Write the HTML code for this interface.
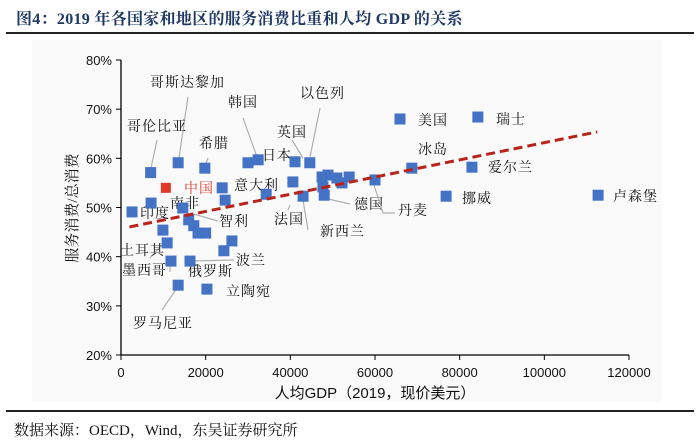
<!DOCTYPE html>
<html><head><meta charset="utf-8"><style>
html,body{margin:0;padding:0;background:#fff;}
body{width:700px;height:442px;position:relative;overflow:hidden;font-family:"Liberation Serif","Noto Serif CJK SC",serif;}
#title{position:absolute;left:16px;top:6px;font-size:16px;font-weight:bold;color:#1f3864;letter-spacing:0.3px;}
#rule1{position:absolute;left:6px;top:32px;width:688px;height:2px;background:#222;}
#rule2{position:absolute;left:6px;top:410px;width:688px;height:2px;background:#222;}
#source{position:absolute;left:14px;top:419px;font-size:15px;color:#111;}
svg{position:absolute;left:0;top:0;}
</style></head><body>
<div id="title">图4：2019 年各国家和地区的服务消费比重和人均 GDP 的关系</div>
<div id="rule1"></div>
<svg id="chart" width="700" height="442"></svg>
<div id="rule2"></div>
<div id="source">数据来源：OECD，Wind，东吴证券研究所</div>
<script>
const gdp=[2600,7000,13500,19800,7100,14600,16000,17200,18200,20000,9900,10900,11800,16300,13500,20300,23900,24600,26200,24300,34300,40600,43000,30000,32400,41100,44600,47500,48900,51000,52200,53900,47700,48000,60000,65900,84300,68700,82900,76800,112700];
const share=[49.1,57.1,59.1,58.0,50.9,49.9,47.5,46.3,44.8,44.8,45.4,42.8,39.1,39.1,34.2,33.4,54.0,51.5,43.2,41.2,52.7,55.2,52.3,59.1,59.7,59.3,59.1,56.2,56.6,56.0,55.0,56.2,54.2,52.5,55.6,68.0,68.4,58.0,58.2,52.3,52.5];
const chinaGdp=[10600];
const chinaShare=[54.0];
const trendX=[2000,112500];
const trendIntercept=45.7, trendSlope=0.0001749;
const xTicks=[0,20000,40000,60000,80000,100000,120000];
const yTicks=[20,30,40,50,60,70,80];

const NS="http://www.w3.org/2000/svg";
const svg=document.getElementById('chart');
const X0=121,X1=629,Y0=355,Y1=60;
const xs=v=>X0+(v/120000)*(X1-X0);
const ys=v=>Y0-((v-20)/60)*(Y0-Y1);
function mk(tag,a){const e=document.createElementNS(NS,tag);for(const k in a)e.setAttribute(k,a[k]);svg.appendChild(e);return e;}

const bg=mk('rect',{x:32,y:40,width:630,height:362,fill:'#fafafa'});



const ya=mk('line',{x1:X0,y1:Y1,x2:X0,y2:Y0,stroke:'#000','stroke-width':1.3});


const xa=mk('line',{x1:X0,y1:Y0,x2:X1,y2:Y0,stroke:'#000','stroke-width':1.3});



yTicks.forEach(t=>{
 const y=ys(t);
 const tk=mk('line',{x1:X0-5,y1:y,x2:X0,y2:y,stroke:'#000'});
 
 
 const tx=mk('text',{x:X0-9,y:y+5,'text-anchor':'end','font-size':13,'font-family':'Liberation Sans, sans-serif',fill:'#111'});
 tx.textContent=t+'%';
 
 
});
xTicks.forEach(t=>{
 const x=xs(t);
 const tk=mk('line',{x1:x,y1:Y0,x2:x,y2:Y0+5,stroke:'#000'});
 
 
 const tx=mk('text',{x:x,y:Y0+22,'text-anchor':'middle','font-size':13,'font-family':'Liberation Sans, sans-serif',fill:'#111'});
 tx.textContent=t;
 
 
});
const xt=mk('text',{x:375,y:398,'text-anchor':'middle','font-size':15,'font-family':'Liberation Sans, Noto Sans CJK SC, sans-serif',fill:'#111'});
xt.textContent='人均GDP（2019，现价美元）';


const yt=mk('text',{x:0,y:0,'text-anchor':'middle','font-size':15,'font-family':'Liberation Serif, Noto Serif CJK SC, serif',fill:'#111',transform:'translate(77,208) rotate(-90)'});
yt.textContent='服务消费/总消费';



const ann=[
 ['哥斯达黎加',150,87,[[188,97],[179,158]]],
 ['哥伦比亚',127,131,[[157,140],[151,168]]],
 ['韩国',228,107,[[243,118],[257,157]]],
 ['以色列',300,98,[[320,108],[310,157]]],
 ['英国',277,137,[[292,140],[303,158]]],
 ['日本',262,160,null],
 ['希腊',199,148,[[208,158],[205,166]]],
 ['意大利',234,190,null],
 ['印度',140,218,null],
 ['南非',170,208,null],
 ['智利',219,226,[[190,213],[218,221]]],
 ['法国',274,224,[[290,205],[288,210]]],
 ['新西兰',320,236,[[303,200],[308,230]]],
 ['德国',354,209,[[324,198],[350,204]]],
 ['丹麦',398,215,[[373,182],[383,213],[395,213]]],
 ['土耳其',120,255,[[162,245],[150,258]]],
 ['墨西哥',122,275,[[170,262],[170,272]]],
 ['俄罗斯',188,276,null],
 ['波兰',236,265,[[190,261],[234,260]]],
 ['立陶宛',226,296,null],
 ['罗马尼亚',133,328,[[177,288],[162,310]]],
 ['美国',418,125,null],
 ['瑞士',496,124,null],
 ['冰岛',418,154,null],
 ['爱尔兰',488,172,null],
 ['挪威',462,203,null],
 ['卢森堡',613,201,null]
];
ann.forEach(a=>{
 if(a[3]){
  const p=mk('polyline',{points:a[3].map(q=>q.join(',')).join(' '),fill:'none',stroke:'#b0b0b0','stroke-width':1.2});
  
  
 }
 const t=mk('text',{x:a[1],y:a[2],'font-size':14,'font-family':'Liberation Serif, Noto Serif CJK SC, serif',fill:'#111','letter-spacing':'1'});
 t.textContent=a[0];
 
 
});

gdp.forEach((g,i)=>{
 const r=mk('rect',{x:xs(g)-5.5,y:ys(share[i])-5.5,width:11,height:11,fill:'#4472c4'});
 
 
});
chinaGdp.forEach((g,i)=>{
 const r=mk('rect',{x:xs(g)-5,y:ys(chinaShare[i])-5,width:10,height:10,fill:'#e03a2a'});
 
 
});
const cl=mk('text',{x:184,y:193,'font-size':14,'font-family':'Liberation Serif, Noto Serif CJK SC, serif',fill:'#e03a2a','letter-spacing':'1'});
cl.textContent='中国';



const tl=mk('line',{x1:xs(trendX[0]),y1:ys(trendIntercept+trendSlope*trendX[0]),x2:xs(trendX[1]),y2:ys(trendIntercept+trendSlope*trendX[1]),stroke:'#b8241a','stroke-width':3,'stroke-dasharray':'9,5'});


</script>
</body></html>
